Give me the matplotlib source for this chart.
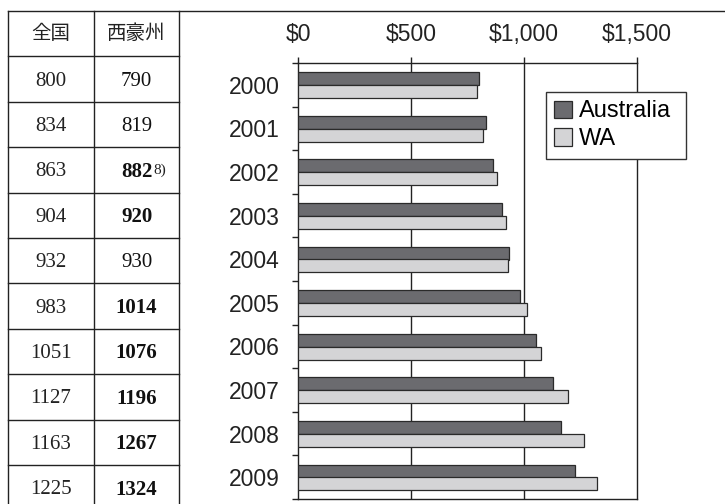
import matplotlib
matplotlib.use("Agg")
import matplotlib.pyplot as plt
from matplotlib.lines import Line2D
import numpy as np

# ---------------- data ----------------
years = ["2000", "2001", "2002", "2003", "2004", "2005", "2006", "2007", "2008", "2009"]
australia = [800, 834, 863, 904, 932, 983, 1051, 1127, 1163, 1225]
wa = [790, 819, 882, 920, 930, 1014, 1076, 1196, 1267, 1324]
wa_bold = [False, False, True, True, False, True, True, True, True, True]
wa_notes = ["", "", "8)", "", "", "", "", "", "", ""]
table_headers = ["全国", "西豪州"]
series_labels = ["Australia", "WA"]
xticks = [0, 500, 1000, 1500]
xtick_labels = ["$0", "$500", "$1,000", "$1,500"]

W, H = 725, 504
fig = plt.figure(figsize=(W / 100, H / 100), dpi=100)

def fx(px):
    return px / W

def fy(py):
    return 1 - py / H

line_kw = dict(color="#222222", linewidth=1.0, transform=fig.transFigure)

# ---------------- chart ----------------
ax_left, ax_right = 298, 637
ax_top, ax_bottom = 63, 499
ax = fig.add_axes([fx(ax_left), 1 - ax_bottom / H, (ax_right - ax_left) / W,
                   (ax_bottom - ax_top) / H])

y = np.arange(len(years))
bh = 0.30
ax.barh(y - 0.14, australia, height=bh, color="#6b6b6f", edgecolor="#2a2a2a",
        linewidth=0.9, label=series_labels[0], zorder=3)
ax.barh(y + 0.155, wa, height=bh, color="#d4d4d6", edgecolor="#2a2a2a",
        linewidth=0.9, label=series_labels[1], zorder=3)

ax.set_xlim(0, 1500)
ax.set_ylim(len(years) - 0.5, -0.5)

ax.xaxis.tick_top()
ax.set_xticks(xticks)
ax.set_xticklabels(xtick_labels)
ax.tick_params(axis="x", which="major", direction="out", length=4.5, width=1,
               pad=8, labelsize=16.5, colors="#222222", top=True, bottom=False)
for xv in xticks[1:-1]:
    ax.axvline(xv, color="#222222", linewidth=1.0, zorder=1)

ax.set_yticks(y)
ax.set_yticklabels(years)
ax.set_yticks(np.arange(len(years) + 1) - 0.5, minor=True)
ax.tick_params(axis="y", which="major", length=0, pad=13.5, labelsize=16.5,
               colors="#222222")
ax.tick_params(axis="y", which="minor", length=4.5, width=1, direction="out",
               color="#222222")

for s in ax.spines.values():
    s.set_color("#222222")
    s.set_linewidth(1.0)

for lab in ax.get_xticklabels() + ax.get_yticklabels():
    lab.set_family("Liberation Sans")

leg = ax.legend(loc="upper left", bbox_to_anchor=(0.732, 0.833, 0.413, 0.1),
                mode="expand",
                frameon=True, fancybox=False, framealpha=1,
                edgecolor="#333333", prop={"family": "Liberation Sans", "size": 17},
                handlelength=0.75, handleheight=0.75, handletextpad=0.3,
                labelspacing=0.25, borderpad=0.35, borderaxespad=0)
leg.get_frame().set_linewidth(1.0)
leg.set_zorder(5)

# ---------------- table ----------------
top_y = 11
row_h = 45.4
x_left, x_mid, x_right = 8, 94, 179
n_rows = len(years) + 1
bottom_y = top_y + row_h * n_rows
fig.add_artist(Line2D([fx(x_left), fx(W)], [fy(top_y), fy(top_y)], **line_kw))
for k in range(1, n_rows + 1):
    yy = top_y + row_h * k
    fig.add_artist(Line2D([fx(x_left), fx(x_right)], [fy(yy), fy(yy)], **line_kw))
for xx in (x_left, x_mid, x_right):
    fig.add_artist(Line2D([fx(xx), fx(xx)], [fy(top_y), fy(bottom_y)], **line_kw))

c1 = (x_left + x_mid) / 2
c2 = (x_mid + x_right) / 2
hy = top_y + row_h / 2
for cx, head in zip((c1, c2), table_headers):
    fig.text(fx(cx), fy(hy), head, ha="center", va="center",
             fontsize=14, family=["Noto Sans CJK JP", "DejaVu Sans"], color="#222222")

for i in range(len(years)):
    cy = top_y + row_h * (i + 1.5) + 2
    fig.text(fx(c1), fy(cy), str(australia[i]), ha="center", va="center",
             fontsize=15, family="Liberation Serif", color="#222222")
    t = fig.text(fx(c2), fy(cy), str(wa[i]), ha="center", va="center",
                 fontsize=15, family="Liberation Serif", color="#111111",
                 fontweight="bold" if wa_bold[i] else "normal")
    if wa_notes[i]:
        ax.annotate(wa_notes[i], xy=(1, 1), xycoords=t, xytext=(0.5, -1),
                    textcoords="offset points", ha="left", va="top",
                    fontsize=11, family="Liberation Serif", color="#222222",
                    annotation_clip=False)

fig.savefig("out.png", dpi=100)
